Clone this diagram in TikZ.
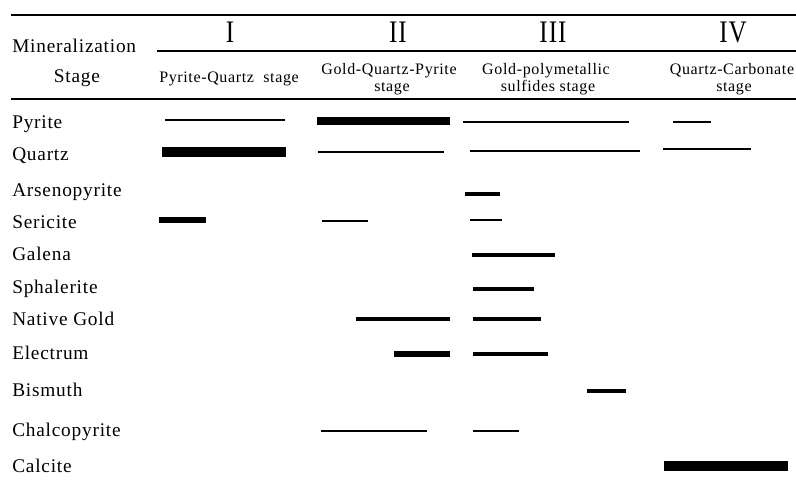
\documentclass[tikz,border=0pt]{standalone}
\usepackage{fontspec}
\setmainfont{Liberation Serif}[LetterSpace=4]
\usepackage{tikz}

\begin{document}
\begin{tikzpicture}[x=0.75pt,y=-0.75pt,
    lbl/.style={anchor=base west,inner sep=0pt,font=\fontsize{14.5}{16}\selectfont},
    hdr/.style={anchor=base,inner sep=0pt,font=\fontsize{12}{14}\selectfont},
    roman/.style={anchor=base,inner sep=0pt,font=\fontsize{23.5}{25}\selectfont,xscale=0.8}]
  \useasboundingbox (0,0) rectangle (796,484);
  % table rules
  \draw[line width=2.2pt] (11,15) -- (796,15);
  \draw[line width=1.1pt] (157,51) -- (796,51);
  \draw[line width=1.5pt] (11,99) -- (796,99);
  % header
  \node[lbl] (hmin) at (12,53) {Mineralization};
  \node[lbl,anchor=base] (hstg) at (77,83) {Stage};
  \foreach \n/\x/\r in {s1/230/I,s2/398/II,s3/553/III,s4/733/IV}{\node[roman] (\n) at (\x,43) {\r};}
  \node[hdr] (t1) at (229,83) {Pyrite-Quartz\ \ stage};
  \node[hdr] (t2a) at (389,75) {Gold-Quartz-Pyrite};
  \node[hdr] (t2b) at (392,92) {stage};
  \node[hdr] (t3a) at (546,75) {Gold-polymetallic};
  \node[hdr] (t3b) at (548,92) {sulfides stage};
  \node[hdr] (t4a) at (732,75) {Quartz-Carbonate};
  \node[hdr] (t4b) at (734,92) {stage};
  % minerals, baseline y
  \foreach \n/\y/\m in {py/129/Pyrite,qz/161/Quartz,apy/197/Arsenopyrite,ser/229/Sericite,
      gn/261/Galena,sp/294/Sphalerite,au/326/Native Gold,el/360/Electrum,
      bi/397/Bismuth,ccp/436/Chalcopyrite,cal/472/Calcite}{\node[lbl] (\n) at (12,\y) {\m};}
  % bars: x from / x to / y / width
  \foreach \xa/\xb/\y/\w in {165/285/120/1.2,317/450/121/6,463/629/122/1.2,673/711/122/1.2,
      162/286/152/7.5,318/444/152/1.2,470/640/151/1.2,663/751/149/2.2,
      465/500/194/3.2,
      159/206/220/3.8,322/368/221/1.2,470/502/220/1.2,
      472/555/255/3.2,
      473/534/289/3.2,
      356/450/319/2.8,473/541/319/2.8,
      394/450/354/3.8,473/548/354/3.2,
      587/626/391/3.2,
      321/427/431/1.2,473/519/431/1.2,
      664/788/466/7.5}{\draw[line width=\w pt] (\xa,\y) -- (\xb,\y);}
\end{tikzpicture}
\end{document}
